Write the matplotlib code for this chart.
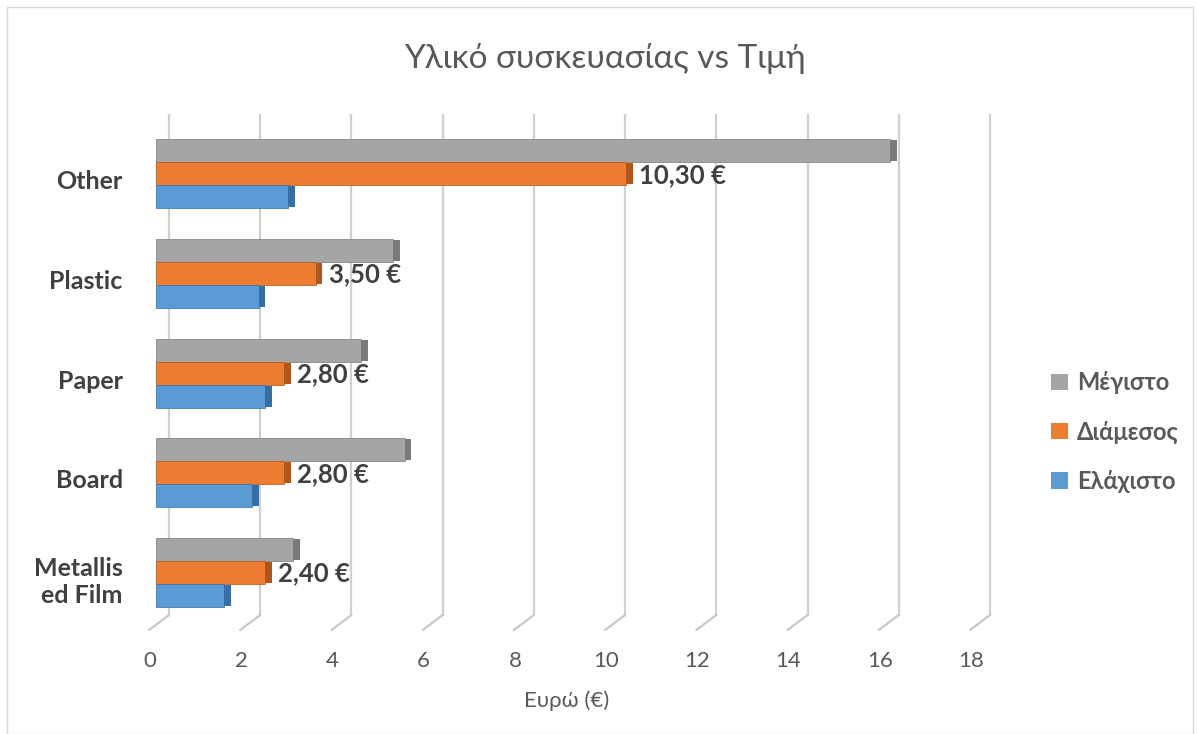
import numpy as np
from matplotlib import pyplot as plt
from matplotlib.patches import Rectangle, Patch
from matplotlib.transforms import offset_copy, ScaledTranslation

plt.rcParams["font.family"] = ["Lato", "Noto Sans", "DejaVu Sans"]

categories = ["Metallis\ned Film", "Board", "Paper", "Plastic", "Other"]
max_price = [3.0, 5.45, 4.5, 5.2, 16.1]
median_price = [2.40, 2.80, 2.80, 3.50, 10.30]
min_price = [1.5, 2.1, 2.4, 2.25, 2.9]
median_labels = ["2,40 €", "2,80 €", "2,80 €", "3,50 €", "10,30 €"]
series_names = ["Μέγιστο", "Διάμεσος", "Ελάχιστο"]
x_ticks = list(range(0, 19, 2))

GREY, GREY_DK = "#A5A5A5", "#7A7A7A"
ORANGE, ORANGE_DK = "#ED7D31", "#B0561A"
BLUE, BLUE_DK = "#5B9BD5", "#356FA6"
TEXT = "#404040"
SOFT = "#595959"

fig = plt.figure(figsize=(11.98, 7.34), dpi=100)
fig.patches.append(Rectangle((0.006, 0.0), 0.99, 0.99, transform=fig.transFigure,
                             fill=False, edgecolor="#D9D9D9", linewidth=1.0))

W, H = 1198, 734
ax = fig.add_axes([156 / W, 1 - 615 / H, (977 - 156) / W, 500 / H])

ypos = np.arange(len(categories))
h = 0.23
cap = 0.15  # darker end face to fake the 3D look
for off, vals, col, dark in ((h, max_price, GREY, GREY_DK),
                             (0, median_price, ORANGE, ORANGE_DK),
                             (-h, min_price, BLUE, BLUE_DK)):
    ax.barh(ypos + off, vals, height=h, color=col, edgecolor=dark, linewidth=0.5, zorder=3)
    ax.barh(ypos + off, cap, left=vals, height=h * 0.92, color=dark, linewidth=0, zorder=3)

for y, v, lab in zip(ypos, median_price, median_labels):
    ax.annotate(lab, xy=(v, y), xytext=(13, -1), textcoords="offset pixels",
                va="center", ha="left", fontsize=18.5, fontweight="bold", color=TEXT, zorder=4)

ax.set_xlim(0, 18)
ax.set_ylim(-0.427, 4.59)

# back-wall gridlines with small floor stubs
xt = ax.get_xaxis_transform()
grid_tr = offset_copy(xt, fig=fig, x=13, y=0, units="dots")
for t in x_ticks:
    ax.plot([t, t], [0, 1.0], transform=grid_tr, color="#D0D0D0", linewidth=1.6, zorder=1, clip_on=False)
    ax.annotate("", xy=(t, 0), xycoords=offset_copy(xt, fig=fig, x=-7, y=-15, units="dots"),
                xytext=(20, 15), textcoords="offset pixels",
                arrowprops=dict(arrowstyle="-", color="#C8C8C8", linewidth=1.6, shrinkA=0, shrinkB=0))

ax.set_xticks(x_ticks)
ax.set_xticklabels([str(t) for t in x_ticks], fontsize=16, color=SOFT)
ax.tick_params(axis="x", length=0, pad=26)
for lab in ax.get_xticklabels():
    lab.set_transform(lab.get_transform() + ScaledTranslation(-6 / 100, 0, fig.dpi_scale_trans))

ax.set_yticks(ypos)
ax.set_yticklabels(categories, fontsize=18, fontweight="bold", color=TEXT, linespacing=1.2)
ax.tick_params(axis="y", length=0, pad=24)
for lab in ax.get_yticklabels():
    lab.set_transform(lab.get_transform() + ScaledTranslation(0, -6 / 100, fig.dpi_scale_trans))
for s in ax.spines.values():
    s.set_visible(False)

ax.set_xlabel("Ευρώ (€)", fontsize=16, color=SOFT, labelpad=14)

fig.text(605 / W, 1 - 58 / H, "Υλικό συσκευασίας vs Τιμή", ha="center", va="center",
         fontsize=24, color=SOFT)

handles = [Patch(facecolor=c) for c in (GREY, ORANGE, BLUE)]
leg = fig.legend(handles, series_names, loc="center left", bbox_to_anchor=(1030 / W, 1 - 432 / H),
                 frameon=False, handlelength=0.7, handleheight=0.7, handletextpad=0.4,
                 labelspacing=1.1, prop={"size": 17, "weight": "bold"})
for txt in leg.get_texts():
    txt.set_color(SOFT)

fig.savefig("out.png", dpi=100)
